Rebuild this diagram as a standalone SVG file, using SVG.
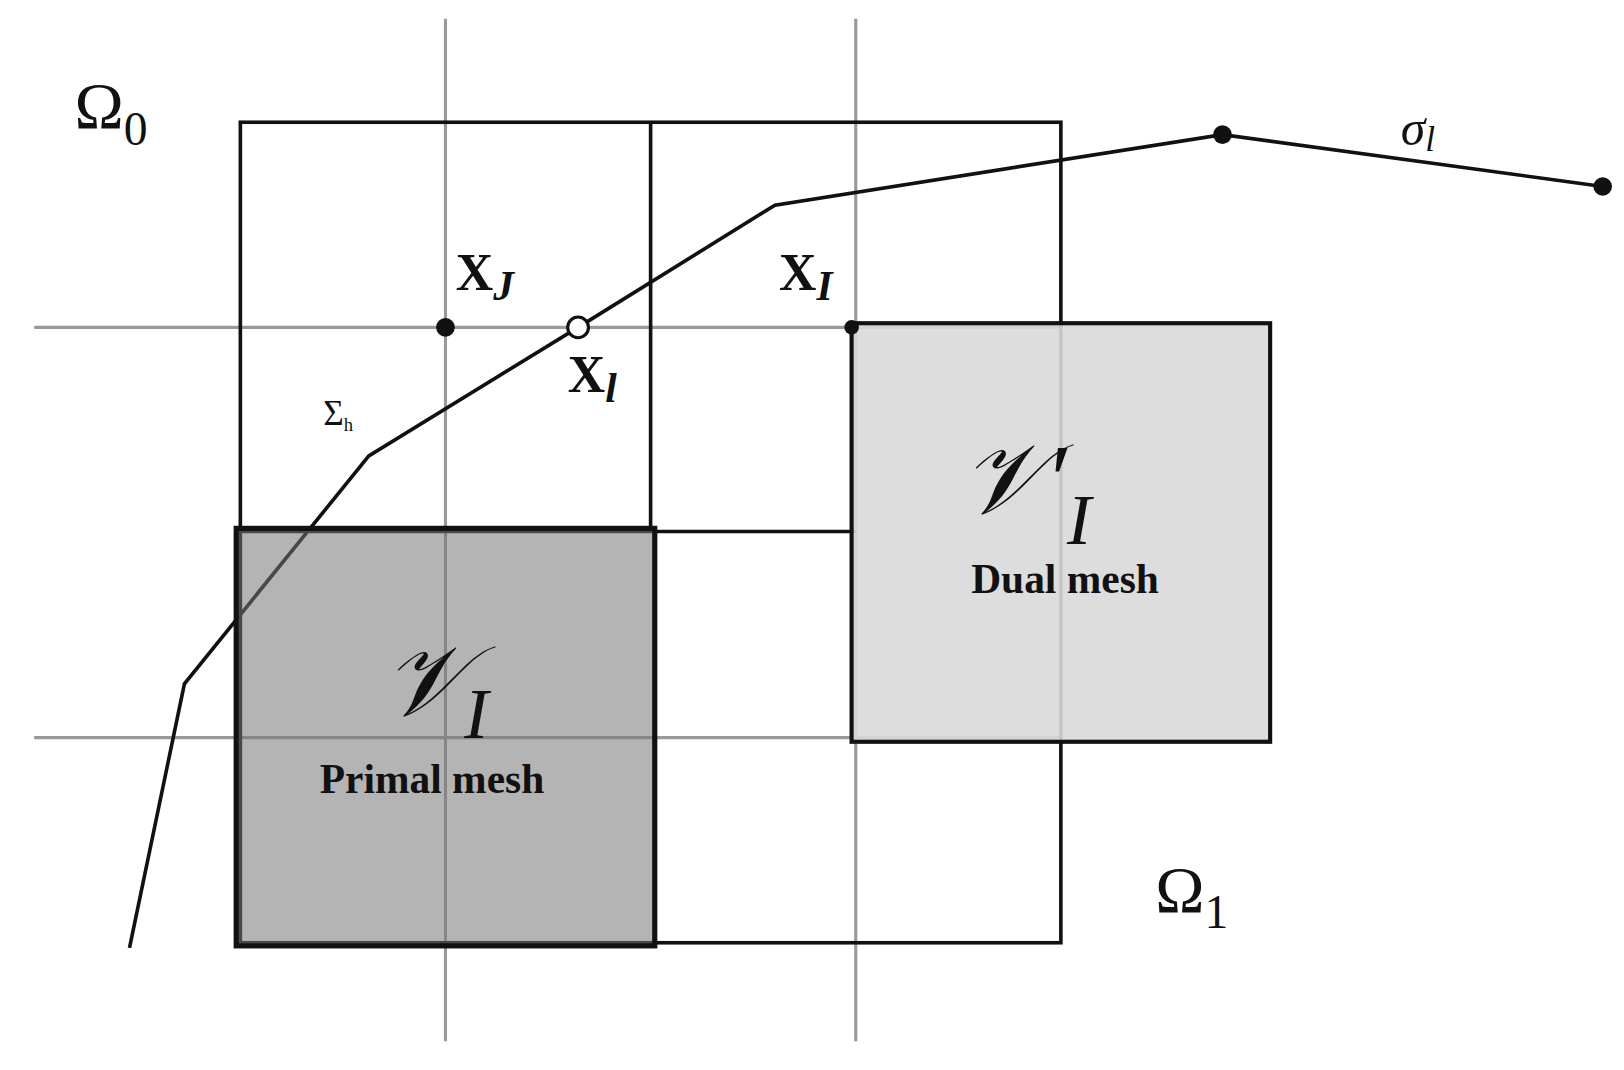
<svg xmlns="http://www.w3.org/2000/svg" width="1624" height="1070" viewBox="0 0 1624 1070">
<style>
.g{stroke:#999;stroke-width:3;fill:none}
.k{stroke:#111;stroke-width:3.5;fill:none}
.t{font-family:"Liberation Serif",serif;fill:#111}
</style>
<rect width="1624" height="1070" fill="#fff"/>
<g transform="scale(1.036)">
<g id="grid">
<line class="g" x1="430" y1="18" x2="430" y2="1005"/>
<line class="g" x1="826" y1="18" x2="826" y2="1005"/>
<line class="g" x1="33" y1="316" x2="1024" y2="316"/>
<line class="g" x1="33" y1="712" x2="1024" y2="712"/>
<rect class="k" x="232" y="118" width="792" height="792"/>
<line class="k" x1="628" y1="118" x2="628" y2="513"/>
<line class="k" x1="232" y1="513" x2="826" y2="513"/>
</g>
<g id="connectors">
<polyline class="k" points="125,915 178,660 356,440 558,316 748,198 1180,130 1547,180"/>
</g>
<g id="dual"><rect x="822" y="312" width="404" height="404" fill="#d9d9d9" fill-opacity="0.9" stroke="#111" stroke-width="4"/></g>
<g id="primal"><rect x="228" y="510" width="404" height="403" fill="#777" fill-opacity="0.55" stroke="#111" stroke-width="5"/></g>
<g id="points">
<circle cx="430" cy="316" r="9" fill="#111"/>
<circle cx="822" cy="316" r="7" fill="#111"/>
<circle cx="1180" cy="130" r="9" fill="#111"/>
<circle cx="1547" cy="180" r="9" fill="#111"/>
<circle cx="558" cy="316" r="10" fill="#fff" stroke="#111" stroke-width="3"/>
</g>
<g id="labels" class="t">
<text class="t" x="72" y="124" font-size="64">Ω<tspan font-size="46" dy="16">0</tspan></text>
<text class="t" x="1352" y="140" font-size="48" font-style="italic">σ<tspan font-size="34" dy="6">l</tspan></text>
<text class="t" x="440" y="280" font-size="50" font-weight="bold">X<tspan font-size="40" dy="10" font-style="italic">J</tspan></text>
<text class="t" x="752" y="280" font-size="50" font-weight="bold">X<tspan font-size="40" dy="10" font-style="italic">I</tspan></text>
<text class="t" x="548" y="378" font-size="50" font-weight="bold">X<tspan font-size="40" dy="10" font-style="italic">l</tspan></text>
<text class="t" x="312" y="410" font-size="34">Σ<tspan font-size="18" dy="6">h</tspan></text>
<text class="t" x="370" y="690" font-size="96" font-style="italic">𝒱</text>
<text class="t" x="448" y="712" font-size="70" font-style="italic">I</text>
<text class="t" x="417" y="765" font-size="40" font-weight="bold" text-anchor="middle">Primal mesh</text>
<text class="t" x="928" y="495" font-size="96" font-style="italic">𝒱′</text>
<text class="t" x="1030" y="525" font-size="70" font-style="italic">I</text>
<text class="t" x="1028" y="572" font-size="40" font-weight="bold" text-anchor="middle">Dual mesh</text>
<text class="t" x="1115" y="880" font-size="64">Ω<tspan font-size="46" dy="16">1</tspan></text>
</g>
</g>
</svg>
